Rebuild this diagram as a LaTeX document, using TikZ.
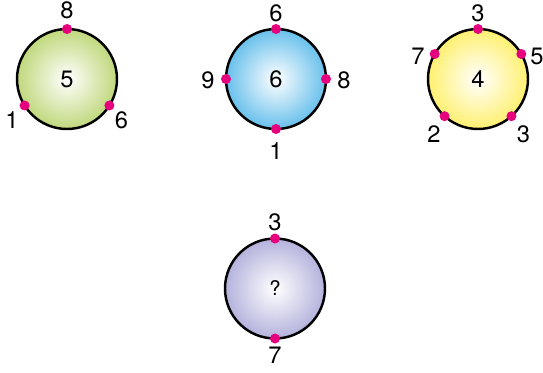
\documentclass[tikz,border=0pt]{standalone}
\usepackage{fontspec}
\setmainfont{TeX Gyre Heros}
\definecolor{ringgreen}{RGB}{192,216,124}
\definecolor{ringblue}{RGB}{104,192,236}
\definecolor{ringyellow}{RGB}{255,240,112}
\definecolor{ringviolet}{RGB}{180,178,220}
\definecolor{dotpink}{RGB}{230,0,126}
\tikzset{
  ring/.style={circle, draw=black, line width=1.4pt, minimum size=2cm, inner sep=0pt, outer sep=0pt, inner color=white, font=\fontsize{13.5}{15}\selectfont},
  numlbl/.style={inner sep=0pt, font=\fontsize{13.5}{15}\selectfont},
  dot/.style={fill=dotpink}
}
\begin{document}
\begin{tikzpicture}
			% one unit is the radius of a ring; the page is the reference's 543x372 frame
			\useasboundingbox (0,0) rectangle (10.86,7.44);
			% the four rings, shaded white in the middle
			\node[ring, outer color=ringgreen] (ga) at (1.34,5.86) {5};
			\node[ring, outer color=ringblue] (gb) at (5.52,5.86) {6};
			\node[ring, outer color=ringyellow] (gc) at (9.56,5.86) {4};
			\node[ring, outer color=ringviolet, font=\fontsize{11.5}{13}\selectfont] (gd) at (5.50,1.67) {?};
			% pink points on the rims
			\foreach \a in {90,-148,-32} \fill[dot] (ga.\a) circle (0.1);
			\foreach \a in {90,180,0,-90} \fill[dot] (gb.\a) circle (0.1);
			\foreach \a in {90,150,30,-132,-48} \fill[dot] (gc.\a) circle (0.1);
			\foreach \a in {90,-90} \fill[dot] (gd.\a) circle (0.1);
			% numbers beside the points
			\node[numlbl] (gatop) at (1.34,7.24) {8};
			\node[numlbl] (galeft) at (0.24,5.04) {1};
			\node[numlbl] (garight) at (2.43,5.04) {6};
			\node[numlbl] (gbtop) at (5.52,7.18) {6};
			\node[numlbl] (gbleft) at (4.16,5.84) {9};
			\node[numlbl] (gbright) at (6.88,5.84) {8};
			\node[numlbl] (gbbot) at (5.52,4.42) {1};
			\node[numlbl] (gctop) at (9.56,7.18) {3};
			\node[numlbl] (gcleft) at (8.36,6.32) {7};
			\node[numlbl] (gcright) at (10.74,6.32) {5};
			\node[numlbl] (gclow) at (8.68,4.76) {2};
			\node[numlbl] (gcrlow) at (10.47,4.76) {3};
			\node[numlbl] (gdtop) at (5.50,3.00) {3};
			\node[numlbl] (gdbot) at (5.50,0.34) {7};
		\end{tikzpicture}
\end{document}
